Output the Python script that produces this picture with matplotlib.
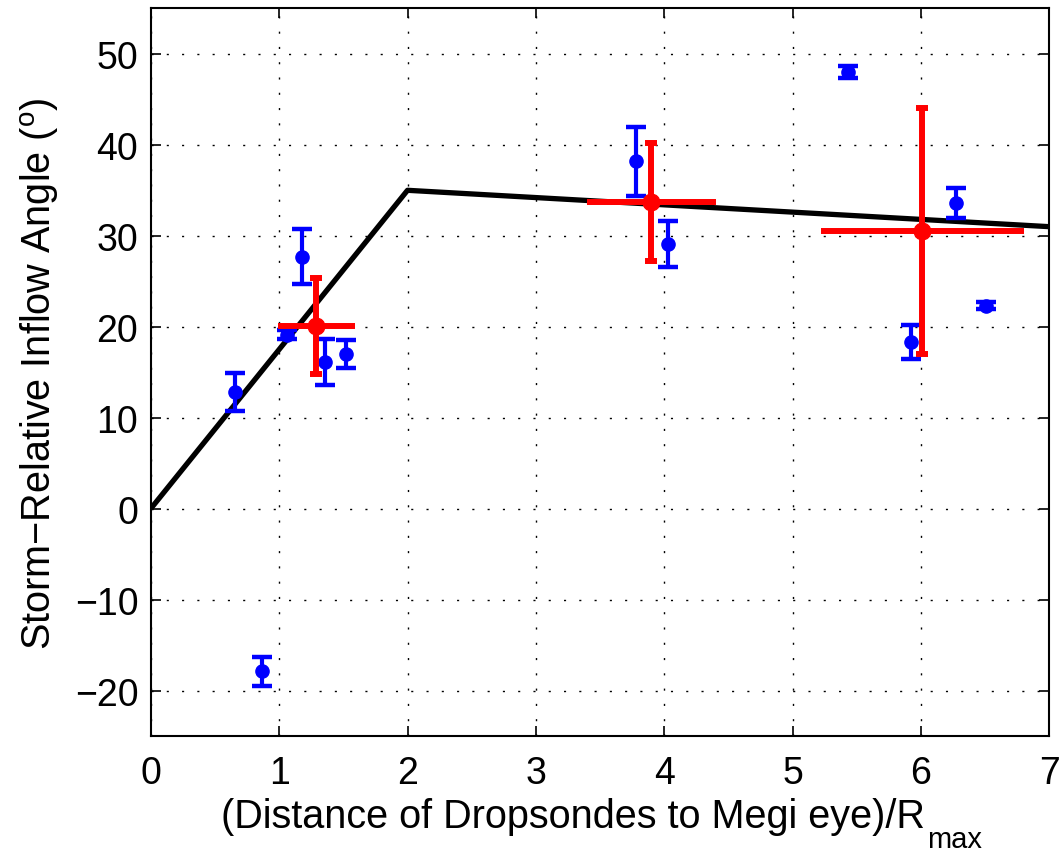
import matplotlib
matplotlib.use("Agg")
import matplotlib.pyplot as plt
import numpy as np

plt.rcParams['font.family'] = ['Liberation Sans', 'DejaVu Sans']
plt.rcParams['mathtext.fontset'] = 'custom'
plt.rcParams['mathtext.rm'] = 'Liberation Sans'
plt.rcParams['mathtext.it'] = 'Liberation Sans'

# Individual dropsonde estimates (blue)
blue_x = [0.655, 1.06, 1.18, 1.36, 1.52, 0.87, 3.78, 4.03, 5.43, 6.27, 6.51, 5.92]
blue_y = [12.8, 19.1, 27.7, 16.1, 17.0, -17.9, 38.2, 29.1, 48.0, 33.6, 22.3, 18.3]
blue_err = [2.1, 0.5, 3.0, 2.5, 1.5, 1.6, 3.8, 2.5, 0.7, 1.7, 0.4, 1.9]

# Bin means (red)
red_x = [1.29, 3.90, 6.01]
red_y = [20.1, 33.7, 30.5]
red_xerr = [0.30, 0.50, 0.79]
red_yerr = [5.3, 6.5, 13.5]

# Piecewise fit (black)
fit_x = [0, 2, 7]
fit_y = [0, 35, 31]

xticks = [0, 1, 2, 3, 4, 5, 6, 7]
yticks = [-20, -10, 0, 10, 20, 30, 40, 50]

xlabel_main = '(Distance of Dropsondes to Megi eye)/R'
xlabel_sub = 'max'
ylabel_text = 'Storm\u2212Relative Inflow Angle ($^{\\mathrm{o}}$)'

fig = plt.figure(figsize=(10.62, 8.54), dpi=100)
ax = fig.add_axes([0.142, 0.137, 0.846, 0.852])

ax.plot(fit_x, fit_y, color='black', lw=3.8, zorder=2, solid_capstyle='butt')

ax.errorbar(blue_x, blue_y, yerr=blue_err, fmt='o', color='blue', ms=9.5,
            elinewidth=3, capsize=7, capthick=3.2, zorder=3)

ax.errorbar(red_x, red_y, xerr=red_xerr, fmt='none', ecolor='red',
            elinewidth=4.3, capsize=0, zorder=4)
ax.errorbar(red_x, red_y, yerr=red_yerr, fmt='o', color='red', ms=12,
            elinewidth=4.3, capsize=4.5, capthick=4.3, zorder=4)

ax.set_xlim(0, 7)
ax.set_ylim(-25, 55)
ax.set_xticks(xticks)
ax.set_yticks(yticks)
ax.grid(True, color='black', linestyle=(0, (1.5, 9.5)), linewidth=1.0)
ax.tick_params(axis='both', direction='in', length=7, width=1.2, labelsize=27,
               top=True, right=True)
ax.tick_params(axis='x', pad=14)
ax.tick_params(axis='y', pad=9)
for s in ax.spines.values():
    s.set_linewidth(1.5)

ax.set_ylabel(ylabel_text, fontsize=28.5, labelpad=10)

# x label: main text plus lowered subscript, centred on the axes
renderer = fig.canvas.get_renderer()
t_main = fig.text(0, 0, xlabel_main, fontsize=28.5, ha='left', va='baseline')
t_sub = fig.text(0, 0, xlabel_sub, fontsize=21, ha='left', va='baseline')
w_main = t_main.get_window_extent(renderer).width / fig.bbox.width
w_sub = t_sub.get_window_extent(renderer).width / fig.bbox.width
x_center = 0.142 + 0.846 / 2
x0 = x_center - (w_main + w_sub) / 2
base_y = 1 - 828 / 854
t_main.set_position((x0, base_y))
t_sub.set_position((x0 + w_main + 0.002, base_y - 20 / 854))

fig.savefig('out.png', dpi=100)
